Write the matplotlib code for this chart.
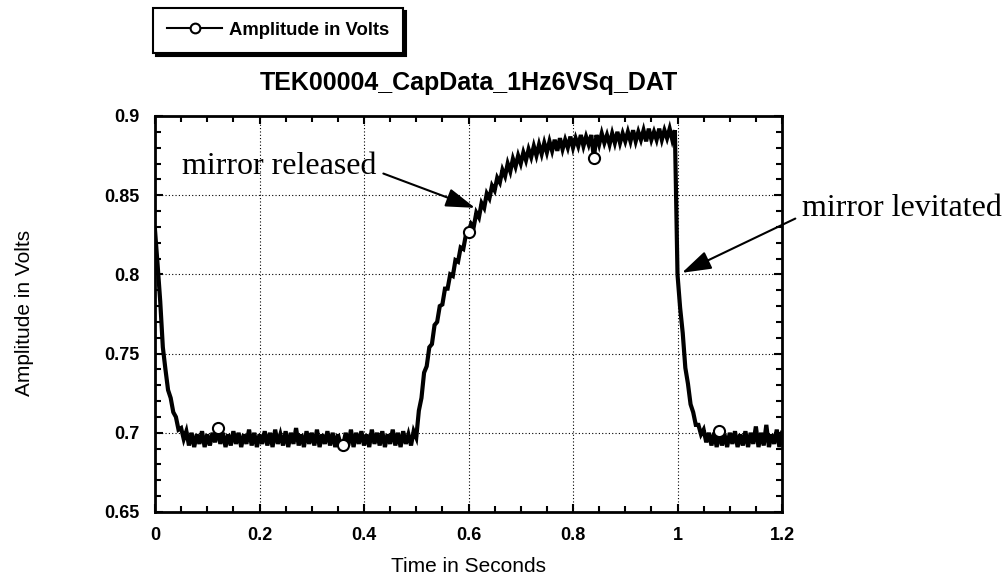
import numpy as np
import matplotlib
matplotlib.use("Agg")
import matplotlib.pyplot as plt
from matplotlib.ticker import MultipleLocator, FixedLocator, FixedFormatter

# ---------------- data ----------------
title = "TEK00004_CapData_1Hz6VSq_DAT"
x_label = "Time in Seconds"
y_label = "Amplitude in Volts"
series_name = "Amplitude in Volts"

x_ticks = [0, 0.2, 0.4, 0.6, 0.8, 1.0, 1.2]
x_tick_labels = ["0", "0.2", "0.4", "0.6", "0.8", "1", "1.2"]
y_ticks = [0.65, 0.70, 0.75, 0.80, 0.85, 0.90]
y_tick_labels = ["0.65", "0.7", "0.75", "0.8", "0.85", "0.9"]

# scope samples, one every 5 ms from 0 to 1.2 s
time_s = np.linspace(0.0, 1.2, 241)
amplitude_v = [
    0.828, 0.806, 0.783, 0.754, 0.740, 0.727, 0.722, 0.713, 0.710, 0.702,
    0.703, 0.696, 0.701, 0.692, 0.700, 0.691, 0.699, 0.693, 0.701, 0.691,
    0.699, 0.692, 0.700, 0.694, 0.703, 0.693, 0.700, 0.691, 0.699, 0.692,
    0.701, 0.693, 0.700, 0.691, 0.699, 0.693, 0.702, 0.692, 0.700, 0.691,
    0.699, 0.693, 0.701, 0.692, 0.700, 0.691, 0.702, 0.693, 0.699, 0.692,
    0.701, 0.691, 0.700, 0.693, 0.703, 0.692, 0.699, 0.691, 0.701, 0.693,
    0.700, 0.692, 0.702, 0.691, 0.699, 0.693, 0.701, 0.692, 0.700, 0.691,
    0.699, 0.693, 0.692, 0.700, 0.692, 0.702, 0.691, 0.700, 0.693, 0.701,
    0.692, 0.699, 0.691, 0.702, 0.693, 0.700, 0.692, 0.701, 0.691, 0.699,
    0.693, 0.702, 0.692, 0.700, 0.691, 0.701, 0.693, 0.699, 0.692, 0.701,
    0.697, 0.714, 0.722, 0.738, 0.742, 0.754, 0.756, 0.768, 0.770, 0.780,
    0.781, 0.791, 0.791, 0.800, 0.799, 0.809, 0.808, 0.817, 0.816, 0.825,
    0.827, 0.832, 0.830, 0.839, 0.836, 0.845, 0.842, 0.851, 0.848, 0.856,
    0.853, 0.861, 0.858, 0.866, 0.862, 0.870, 0.865, 0.873, 0.868, 0.875,
    0.870, 0.877, 0.872, 0.879, 0.874, 0.881, 0.875, 0.882, 0.876, 0.883,
    0.877, 0.884, 0.878, 0.885, 0.878, 0.886, 0.879, 0.885, 0.880, 0.887,
    0.880, 0.886, 0.881, 0.888, 0.881, 0.887, 0.882, 0.888, 0.8735, 0.888,
    0.882, 0.889, 0.883, 0.888, 0.882, 0.889, 0.883, 0.890, 0.883, 0.889,
    0.884, 0.890, 0.884, 0.891, 0.884, 0.890, 0.885, 0.891, 0.884, 0.892,
    0.885, 0.890, 0.885, 0.892, 0.885, 0.891, 0.886, 0.892, 0.885, 0.891,
    0.800, 0.779, 0.763, 0.741, 0.731, 0.718, 0.713, 0.705, 0.705, 0.699,
    0.702, 0.694, 0.700, 0.692, 0.700, 0.691, 0.701, 0.692, 0.699, 0.691,
    0.700, 0.693, 0.701, 0.691, 0.699, 0.692, 0.701, 0.691, 0.700, 0.693,
    0.704, 0.691, 0.700, 0.692, 0.705, 0.691, 0.699, 0.693, 0.702, 0.691,
    0.700,
]
# samples that carry the open-circle symbol
marker_idx = [24, 72, 120, 168, 216]

annotations = [
    # text, arrow tip (time, volts), text anchor (time, volts)
    ("mirror released", (0.6125, 0.842), (0.052, 0.868)),
    ("mirror levitated", (1.0085, 0.801), (1.238, 0.8418)),
]

# ---------------- figure ----------------
W, H = 1008, 578
fig = plt.figure(figsize=(W / 100, H / 100), dpi=100)
fig.patch.set_facecolor("white")

sans = ["Liberation Sans", "DejaVu Sans"]
serif = ["Liberation Serif", "DejaVu Serif"]

ax = fig.add_axes([155 / W, 1 - 512 / H, (782 - 155) / W, (512 - 116) / H])

line, = ax.plot(time_s, amplitude_v, color="black", lw=3.0,
                solid_joinstyle="miter",
                marker="o", markevery=marker_idx, markersize=8,
                markerfacecolor="white", markeredgecolor="black",
                markeredgewidth=1.5, label=series_name)

ax.set_xlim(0, 1.2)
ax.set_ylim(0.65, 0.9)

ax.xaxis.set_major_locator(FixedLocator(x_ticks))
ax.xaxis.set_major_formatter(FixedFormatter(x_tick_labels))
ax.yaxis.set_major_locator(FixedLocator(y_ticks))
ax.yaxis.set_major_formatter(FixedFormatter(y_tick_labels))
ax.xaxis.set_minor_locator(MultipleLocator(0.05))
ax.yaxis.set_minor_locator(MultipleLocator(0.01))

ax.tick_params(which="both", direction="in", top=True, right=True,
               color="black", width=1.5)
ax.tick_params(which="major", length=6, pad=11, labelsize=13)
ax.tick_params(which="minor", length=4)
for lab in ax.get_xticklabels() + ax.get_yticklabels():
    lab.set_fontfamily(sans)
    lab.set_fontweight("bold")

for sp in ax.spines.values():
    sp.set_linewidth(2.0)
    sp.set_color("black")

ax.grid(True, which="major", color="black", lw=0.8, linestyle=(0, (1, 2)))
ax.set_axisbelow(True)

# axis labels and title
fig.text((155 + 782) / 2 / W, 1 - 567 / H, x_label, ha="center", va="center",
         fontsize=15, family=sans)
fig.text(25 / W, 1 - 313 / H, y_label, ha="center", va="center",
         rotation=90, fontsize=15, family=sans)
fig.text((155 + 782) / 2 / W, 1 - 83 / H, title, ha="center", va="center",
         fontsize=18, fontweight="bold", family=sans)

# annotations
for text, tip, anchor in annotations:
    if text.startswith("mirror released"):
        relpos = (1.0, 0.35)
    else:
        relpos = (0.0, 0.25)
    ax.annotate(text, xy=tip, xytext=anchor, textcoords="data",
                ha="left", va="center", fontsize=23, family=serif,
                annotation_clip=False,
                arrowprops=dict(arrowstyle="-|>,head_length=1.0,head_width=0.32",
                                mutation_scale=18, lw=1.5, color="black",
                                shrinkA=3, shrinkB=0, relpos=relpos))

# legend with a dark drop shadow
leg = ax.legend(handles=[line], loc="upper left",
                bbox_to_anchor=(153 / W, 1 - 8 / H),
                bbox_transform=fig.transFigure,
                frameon=True, fancybox=False, framealpha=1,
                edgecolor="black", handlelength=3.0, handletextpad=0.35,
                borderpad=0.75, borderaxespad=0, numpoints=1,
                prop={"family": sans, "size": 13.3, "weight": "bold"},
                shadow={"ox": 2.5, "oy": -2.5, "facecolor": "black",
                        "edgecolor": "black", "alpha": 1})
leg.get_frame().set_linewidth(1.5)
for lh in leg.legend_handles:
    lh.set_linewidth(1.5)
    lh.set_markersize(7)

fig.savefig("out.png", dpi=100)
